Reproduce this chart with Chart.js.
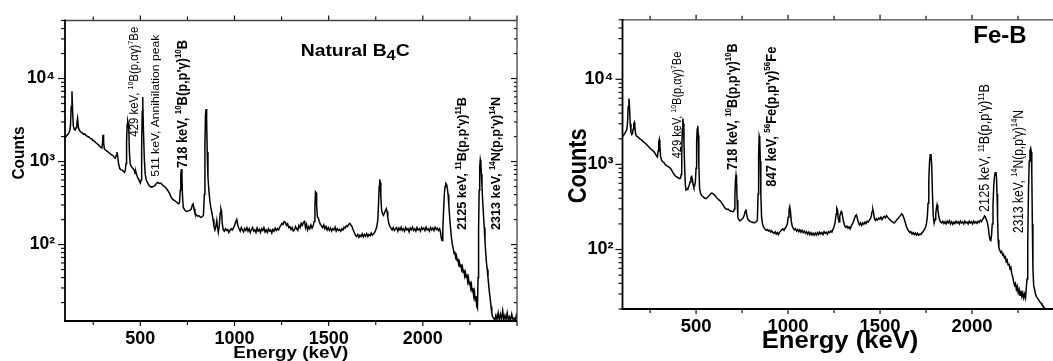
<!DOCTYPE html>
<html><head><meta charset="utf-8">
<script src="https://cdn.jsdelivr.net/npm/chart.js@4.4.1/dist/chart.umd.min.js"></script>
<style>
html,body{margin:0;padding:0;background:#fff;overflow:hidden;width:1053px;height:361px;}
#c1{position:absolute;left:0;top:0;}
#c2{position:absolute;left:530px;top:0;}
</style></head><body>
<canvas id="c1" width="530" height="361"></canvas>
<canvas id="c2" width="544" height="361"></canvas>
<script>
const FONT = '"Liberation Sans", Arial, Helvetica, sans-serif';

// ---- tick labels ----
const xTickValues = [500, 1000, 1500, 2000];
const yTickValues = [100, 1000, 10000];
const yTickLabels = ['10²', '10³', '10⁴'];

// ---- Natural B4C spectrum: [energy keV, counts] ----
const b4cPoints = [
[100,1950],[106,2000],[112,2100],[118,2150],[124,2300],[129,2700],[133,4600],[137,7000],[140,4300],[144,2700],
[149,2450],[154,2400],[159,2550],[163,2900],[167,3300],[170,2700],[175,2400],[181,2300],[187,2250],[193,2200],
[199,2120],[206,2150],[213,2050],[220,2000],[227,1980],[234,1900],[241,1880],[248,1800],[255,1760],[262,1700],
[269,1650],[276,1600],[283,1540],[290,1480],[296,1460],[299,1650],[302,2100],[305,1700],[309,1420],[315,1380],
[322,1330],[330,1300],[338,1250],[346,1210],[354,1180],[361,1130],[367,1100],[372,1180],[376,1300],[380,1150],
[385,920],[391,820],[397,800],[403,790],[409,770],[415,740],[420,780],[424,950],[427,1700],[430,2800],
[433,3100],[436,2900],[439,2300],[442,1300],[446,950],[451,880],[456,850],[462,820],[468,780],[472,720],
[476,760],[480,700],[485,650],[490,620],[495,580],[500,550],[504,600],[507,1500],[510,4000],[512,6000],
[514,5000],[517,2200],[521,1100],[526,700],[532,590],[538,560],[545,520],[552,500],[560,490],[568,500],
[576,510],[584,540],[592,560],[600,545],[608,550],[616,525],[624,510],[632,490],[640,470],[648,440],
[656,410],[664,370],[672,350],[680,340],[688,330],[696,320],[703,310],[708,320],[712,450],[715,700],
[718,810],[721,620],[724,380],[728,280],[734,265],[740,255],[748,250],[756,255],[764,260],[771,270],
[777,305],[781,310],[785,270],[790,240],[796,230],[804,220],[812,222],[820,212],[828,215],[835,225],
[840,400],[843,1600],[846,3600],[849,4300],[852,3300],[855,1300],[859,650],[864,450],[869,340],[874,280],
[880,240],[886,200],[891,165],[896,150],[901,165],[906,195],[910,160],[914,140],[919,165],[924,240],
[928,270],[931,255],[935,180],[940,150],[946,145],[952,155],[958,148],[964,152],[970,140],[976,148],
[982,155],[988,150],[994,158],[1000,170],[1006,185],[1012,200],[1018,170],[1024,155],[1030,145],[1036,160],
[1042,150],[1048,142],[1054,156],[1060,148],[1066,160],[1072,145],[1078,155],[1084,140],[1090,152],[1096,160],
[1102,145],[1108,150],[1114,140],[1120,158],[1126,145],[1132,152],[1138,140],[1144,155],[1150,148],[1156,160],
[1162,142],[1168,150],[1174,140],[1180,155],[1186,145],[1192,150],[1198,138],[1204,152],[1210,145],[1216,158],
[1222,148],[1228,155],[1234,150],[1240,162],[1246,170],[1252,180],[1258,175],[1264,190],[1270,185],[1276,170],
[1282,178],[1288,160],[1294,165],[1300,152],[1306,160],[1312,145],[1318,150],[1324,165],[1330,155],[1336,148],
[1342,170],[1348,160],[1354,180],[1360,170],[1366,185],[1372,190],[1377,160],[1382,175],[1388,150],[1394,165],
[1400,155],[1406,172],[1412,158],[1418,170],[1423,190],[1427,280],[1430,430],[1433,420],[1436,300],[1440,215],
[1445,210],[1450,190],[1456,175],[1462,168],[1468,160],[1474,172],[1480,155],[1486,165],[1492,150],[1498,160],
[1504,148],[1510,158],[1516,145],[1522,155],[1528,150],[1534,162],[1540,145],[1546,155],[1552,148],[1558,152],
[1564,145],[1570,155],[1576,150],[1582,162],[1588,158],[1594,168],[1600,165],[1606,175],[1612,180],[1618,172],
[1624,165],[1630,150],[1636,140],[1642,130],[1648,125],[1654,132],[1660,122],[1666,130],[1672,125],[1678,135],
[1684,124],[1690,132],[1696,126],[1702,135],[1708,125],[1714,132],[1720,128],[1726,138],[1732,130],[1738,135],
[1744,140],[1750,150],[1756,165],[1761,200],[1765,320],[1768,500],[1771,610],[1774,560],[1777,380],[1781,260],
[1786,235],[1791,225],[1796,240],[1801,255],[1806,270],[1810,250],[1814,210],[1819,180],[1825,165],[1831,158],
[1837,150],[1843,160],[1849,148],[1855,155],[1861,160],[1867,145],[1873,158],[1879,150],[1885,162],[1891,148],
[1897,155],[1903,145],[1909,160],[1915,150],[1921,155],[1927,142],[1933,158],[1939,150],[1945,162],[1951,148],
[1957,155],[1963,145],[1969,160],[1975,150],[1981,155],[1987,145],[1993,160],[1999,152],[2005,158],[2011,148],
[2017,162],[2023,150],[2029,155],[2035,145],[2041,160],[2047,150],[2053,158],[2059,148],[2065,162],[2071,152],
[2077,158],[2083,148],[2089,155],[2094,140],[2098,120],[2102,112],[2106,150],[2110,250],[2114,400],[2118,500],
[2122,545],[2126,530],[2130,480],[2134,400],[2138,300],[2142,220],[2147,160],[2152,120],[2157,100],[2162,88],
[2166,78],[2170,82],[2174,70],[2178,74],[2182,64],[2186,68],[2190,58],[2194,62],[2198,54],[2202,58],
[2206,50],[2210,54],[2214,46],[2218,50],[2222,42],[2226,46],[2230,40],[2234,44],[2238,36],[2242,40],
[2246,33],[2250,36],[2254,30],[2258,33],[2262,27],[2266,30],[2270,24],[2274,27],[2278,21],[2282,24],
[2286,18],[2290,17],[2293,40],[2296,150],[2299,450],[2302,850],[2305,1050],[2308,950],[2311,700],[2314,500],
[2318,330],[2322,230],[2326,160],[2330,110],[2334,80],[2338,60],[2342,50],[2346,40],[2350,32],[2354,26],
[2358,22],[2362,18],[2366,15],[2370,13.5],[2376,13],[2382,12.2],[2388,14],[2394,12.5],[2400,15],[2406,12.3],
[2412,14.5],[2418,12.6],[2424,16],[2430,12.4],[2436,14],[2442,12.5],[2448,15],[2454,12.2],[2460,13.5],[2466,12.4],
[2472,14.5],[2478,12.6],[2484,13],[2490,12.3],[2496,14],[2500,12.5]
];

// ---- Fe-B spectrum: [energy keV, counts] ----
const febPoints = [
[100,2130],[106,2200],[112,2300],[118,2420],[123,2550],[127,3000],[131,4800],[135,5950],[138,4800],[142,3000],
[146,2400],[150,2250],[154,2300],[158,2600],[161,2950],[164,3100],[167,2800],[171,2300],[176,2150],[182,2130],
[188,2050],[195,2000],[202,1950],[209,1890],[216,1820],[223,1780],[230,1720],[237,1660],[244,1600],[251,1540],
[258,1490],[265,1450],[272,1400],[279,1330],[285,1250],[290,1220],[294,1450],[297,1800],[300,1950],[303,1700],
[307,1250],[312,1120],[318,1080],[325,1050],[332,1000],[339,970],[346,950],[353,930],[360,900],[367,860],
[374,800],[381,760],[388,730],[395,710],[402,700],[409,680],[415,690],[419,760],[422,1300],[425,2600],
[428,3450],[431,3000],[434,1800],[438,900],[442,560],[446,500],[451,510],[456,530],[462,560],[467,620],
[472,700],[476,720],[480,660],[484,580],[488,540],[492,560],[496,620],[500,900],[503,1800],[506,2600],
[509,2850],[512,2200],[515,1000],[519,520],[524,460],[530,430],[536,420],[542,410],[548,400],[554,395],
[560,405],[566,420],[572,430],[578,450],[584,460],[590,455],[596,445],[602,430],[608,420],[614,400],
[620,390],[626,380],[632,370],[638,355],[644,340],[650,325],[656,310],[662,300],[668,295],[674,298],
[680,290],[686,285],[692,282],[698,278],[704,280],[708,300],[711,420],[714,650],[717,745],[720,650],
[723,380],[727,240],[732,225],[738,218],[744,222],[750,228],[756,235],[762,255],[767,280],[771,297],
[775,260],[780,230],[786,220],[792,215],[798,212],[804,210],[810,208],[816,205],[822,210],[828,212],
[833,220],[837,450],[840,1300],[843,2150],[846,2000],[849,1100],[852,450],[856,240],[861,200],[866,185],
[871,178],[876,172],[882,168],[888,172],[894,165],[900,168],[906,160],[912,165],[918,158],[924,155],
[930,162],[936,152],[942,158],[948,150],[954,160],[960,165],[966,170],[972,175],[978,168],[984,178],
[990,185],[996,200],[1001,240],[1005,290],[1009,318],[1013,280],[1017,220],[1022,190],[1028,178],[1034,170],
[1040,175],[1046,165],[1052,172],[1058,162],[1064,170],[1070,160],[1076,168],[1082,158],[1088,165],[1094,155],
[1100,162],[1106,152],[1112,160],[1118,150],[1124,158],[1130,148],[1136,155],[1142,147],[1148,156],[1154,148],
[1160,158],[1166,150],[1172,160],[1178,152],[1184,158],[1190,150],[1196,162],[1202,155],[1208,160],[1214,152],
[1220,162],[1226,158],[1232,165],[1238,160],[1244,172],[1250,185],[1256,210],[1261,260],[1265,305],[1269,290],
[1273,230],[1277,210],[1281,245],[1285,265],[1289,280],[1293,270],[1297,240],[1302,210],[1308,190],[1314,182],
[1320,188],[1326,178],[1332,185],[1338,175],[1344,190],[1350,200],[1356,215],[1362,235],[1367,250],[1372,255],
[1377,230],[1382,210],[1388,195],[1394,205],[1400,192],[1406,205],[1412,198],[1418,210],[1424,202],[1430,215],
[1436,210],[1442,222],[1448,230],[1453,250],[1457,280],[1461,295],[1465,270],[1469,235],[1475,220],[1481,230],
[1487,222],[1493,235],[1499,228],[1505,240],[1511,225],[1517,238],[1523,245],[1529,235],[1535,250],[1541,240],
[1547,232],[1553,225],[1559,218],[1565,212],[1571,208],[1577,205],[1583,212],[1589,220],[1595,228],[1601,236],
[1607,245],[1613,255],[1618,262],[1623,255],[1628,240],[1633,222],[1638,205],[1644,185],[1650,172],[1656,165],
[1662,158],[1668,162],[1674,152],[1680,158],[1686,150],[1692,156],[1698,148],[1704,155],[1710,147],[1716,152],
[1722,150],[1728,158],[1734,162],[1740,170],[1746,180],[1752,200],[1757,240],[1761,350],[1765,650],[1769,1050],
[1773,1300],[1777,1320],[1781,950],[1785,450],[1789,250],[1794,205],[1799,225],[1803,265],[1807,310],[1810,335],
[1814,300],[1818,255],[1823,225],[1829,210],[1835,205],[1841,215],[1847,202],[1853,212],[1859,200],[1865,215],
[1871,205],[1877,218],[1883,200],[1889,212],[1895,198],[1901,210],[1907,202],[1913,215],[1919,205],[1925,212],
[1931,200],[1937,215],[1943,205],[1949,212],[1955,200],[1961,215],[1967,205],[1973,210],[1979,200],[1985,215],
[1991,205],[1997,212],[2003,200],[2009,215],[2015,205],[2021,212],[2027,203],[2033,215],[2039,208],[2045,220],
[2051,212],[2057,225],[2063,235],[2068,248],[2073,240],[2078,225],[2083,210],[2088,185],[2093,150],[2098,130],
[2102,128],[2106,145],[2110,200],[2114,330],[2118,550],[2122,720],[2126,800],[2130,815],[2133,700],[2136,450],
[2139,230],[2142,130],[2146,105],[2151,98],[2156,92],[2161,95],[2166,86],[2171,88],[2176,80],[2181,82],
[2186,72],[2191,75],[2196,66],[2201,68],[2206,60],[2211,62],[2216,52],[2221,48],[2226,42],[2231,38],
[2236,40],[2241,34],[2246,37],[2251,31],[2256,34],[2261,29],[2266,33],[2271,28],[2276,31],[2281,27],
[2286,30],[2291,27],[2295,35],[2299,45],[2303,120],[2307,500],[2311,1100],[2315,1450],[2319,1545],[2322,1400],
[2325,800],[2328,200],[2331,60],[2335,38],[2340,34],[2345,30],[2350,28],[2355,27],[2360,26],[2365,25],
[2370,24],[2375,23.5],[2380,22.5],[2385,22],[2390,21],[2395,20.5],[2400,19],[2410,17],[2420,16],[2440,15],
[2470,14],[2500,13]
];

// ---- texts (segments: t = text, sup / sub flags) ----
const S = (t) => ({t}), SUP = (t) => ({t, sup:true}), SUB = (t) => ({t, sub:true});
const b4cTexts = [
  {segs:[S('429 keV, '),SUP('10'),S('B(p,αγ)'),SUP('7'),S('Be')], x:137.8, y:136.7, rot:true, size:12, len:110},
  {segs:[S('511 keV, Annihilation peak')], x:159.1, y:176.7, rot:true, size:11.5, len:142},
  {segs:[S('718 keV, '),SUP('10'),S("B(p,p'γ)"),SUP('10'),S('B')], x:186.6, y:168, rot:true, size:15, bold:true, len:128},
  {segs:[S('2125 keV, '),SUP('11'),S("B(p,p'γ)"),SUP('11'),S('B')], x:466, y:230, rot:true, size:13.5, bold:true, len:133},
  {segs:[S('2313 keV, '),SUP('14'),S("N(p,p'γ)"),SUP('14'),S('N')], x:500, y:230, rot:true, size:13.5, bold:true, len:133},
  {segs:[S('Natural B'),SUB('4'),S('C')], x:300.7, y:56, size:17, bold:true, len:109},
  {segs:[S('Counts')], x:24.4, y:153, rot:true, size:17, bold:true, len:53, center:true},
  {segs:[S('Energy (keV)')], x:290.8, y:358.4, size:16.3, bold:true, len:115, center:true}
];
const febTexts = [
  {segs:[S('429 keV, '),SUP('10'),S('B(p,αγ)'),SUP('7'),S('Be')], x:150.6, y:158.3, rot:true, size:13, len:106.6},
  {segs:[S('718 keV, '),SUP('10'),S("B(p,p'γ)"),SUP('10'),S('B')], x:207, y:170, rot:true, size:15, bold:true, len:126.7},
  {segs:[S('847 keV, '),SUP('56'),S("Fe(p,p'γ)"),SUP('56'),S('Fe')], x:246, y:186.7, rot:true, size:15, bold:true, len:140},
  {segs:[S('2125 keV, '),SUP('11'),S("B(p,p'γ)"),SUP('11'),S('B')], x:459, y:212, rot:true, size:14, len:128},
  {segs:[S('2313 keV, '),SUP('14'),S("N(p,p'γ)"),SUP('14'),S('N')], x:492.5, y:233, rot:true, size:14, len:123},
  {segs:[S('Fe-B')], x:443.3, y:43.3, size:23.5, bold:true, len:53.4},
  {segs:[S('Counts')], x:55.7, y:165.8, rot:true, size:26, bold:true, len:75, center:true},
  {segs:[S('Energy (keV)')], x:310, y:348.3, size:24, bold:true, len:156.7, center:true}
];

function drawRich(ctx, item) {
  const F = item.size, w = item.bold ? 'bold ' : '';
  let total = 0;
  const parts = item.segs.map(s => {
    const fs = s.sup ? F * 0.62 : (s.sub ? F * 0.85 : F);
    ctx.font = w + fs + 'px ' + FONT;
    const wd = ctx.measureText(s.t).width;
    total += wd;
    return {t: s.t, fs, wd, dy: s.sup ? -F * 0.38 : (s.sub ? F * 0.25 : 0)};
  });
  const sx = item.len ? item.len / total : 1;
  ctx.save();
  ctx.translate(item.x, item.y);
  if (item.rot) ctx.rotate(-Math.PI / 2);
  ctx.scale(sx, 1);
  let cx = item.center ? -total / 2 : 0;
  ctx.fillStyle = '#000';
  ctx.textBaseline = 'alphabetic';
  ctx.textAlign = 'left';
  for (const p of parts) {
    ctx.font = w + p.fs + 'px ' + FONT;
    ctx.fillText(p.t, cx, p.dy);
    cx += p.wd;
  }
  ctx.restore();
}

const richTextPlugin = {
  id: 'richText',
  afterDraw(chart, args, opts) {
    for (const it of (opts.items || [])) drawRich(chart.ctx, it);
  }
};

const framePlugin = {
  id: 'frame',
  afterDatasetsDraw(chart) {
    const {ctx, chartArea: a, scales: {x, y}} = chart;
    const line = (x1, y1, x2, y2) => { ctx.beginPath(); ctx.moveTo(x1, y1); ctx.lineTo(x2, y2); ctx.stroke(); };
    ctx.save();
    ctx.strokeStyle = '#111';
    ctx.lineWidth = 1.2;
    for (let v = Math.ceil(x.min / 250) * 250; v <= x.max; v += 250) {
      const px = x.getPixelForValue(v);
      const L = v % 500 === 0 ? 5 : 4;
      line(px, a.bottom, px, a.bottom + L);
      line(px, a.top, px, a.top - L);
    }
    for (let e = Math.floor(Math.log10(y.min)); e <= Math.ceil(Math.log10(y.max)); e++) {
      for (let m = 1; m < 10; m++) {
        const v = m * Math.pow(10, e);
        if (v < y.min || v > y.max) continue;
        const py = y.getPixelForValue(v);
        const L = m === 1 ? 7 : 4;
        line(a.left - L, py, a.left, py);
        line(a.right, py, a.right - L + 1, py);
      }
    }
    ctx.strokeStyle = '#444';
    ctx.lineWidth = 1.3;
    line(a.left, a.top, a.right, a.top);
    line(a.right, a.top, a.right, a.bottom);
    ctx.strokeStyle = '#000';
    ctx.lineWidth = 1.8;
    line(a.left, a.top - 0.9, a.left, a.bottom + 0.9);
    line(a.left - 0.9, a.bottom, a.right, a.bottom);
    ctx.restore();
  }
};

function makeChart(id, points, o) {
  return new Chart(document.getElementById(id), {
    type: 'line',
    data: {datasets: [{
      data: points.map(p => ({x: p[0], y: p[1]})),
      borderColor: '#000', borderWidth: 1.5, pointRadius: 0, tension: 0, fill: false
    }]},
    options: {
      responsive: false, animation: false, devicePixelRatio: 1,
      layout: {padding: {left: 0, top: o.top, right: o.right, bottom: 0}},
      plugins: {legend: {display: false}, tooltip: {enabled: false}, richText: {items: o.texts}},
      scales: {
        x: {
          type: 'linear', min: 100, max: 2500,
          afterBuildTicks: s => { s.ticks = xTickValues.map(v => ({value: v})); },
          ticks: {callback: v => String(v), font: {family: FONT, size: o.xFont, weight: 'bold'}, color: '#000',
                  padding: o.xPad, maxRotation: 0, autoSkip: false},
          grid: {display: false, drawTicks: false}, border: {display: false},
          afterFit: s => { s.height = o.xH; }
        },
        y: {
          type: 'logarithmic', min: o.ymin, max: 50000,
          afterBuildTicks: s => { s.ticks = yTickValues.map(v => ({value: v})); },
          ticks: {callback: v => { const i = yTickValues.indexOf(v); return i >= 0 ? yTickLabels[i] : ''; },
                  font: {family: FONT, size: o.yFont, weight: 'bold'}, color: '#000', padding: o.yPad, autoSkip: false},
          grid: {display: false, drawTicks: false}, border: {display: false},
          afterFit: s => { s.width = o.yW; }
        }
      }
    },
    plugins: [framePlugin, richTextPlugin]
  });
}

makeChart('c1', b4cPoints, {top: 19.5, right: 13, xH: 40, yW: 65, ymin: 12, xFont: 18, yFont: 17.5, xPad: 7.5, yPad: 10, texts: b4cTexts});
makeChart('c2', febPoints, {top: 12.5, right: 10, xH: 52, yW: 92.5, ymin: 20, xFont: 18.5, yFont: 18, xPad: 7, yPad: 9, texts: febTexts});
</script>
</body></html>
